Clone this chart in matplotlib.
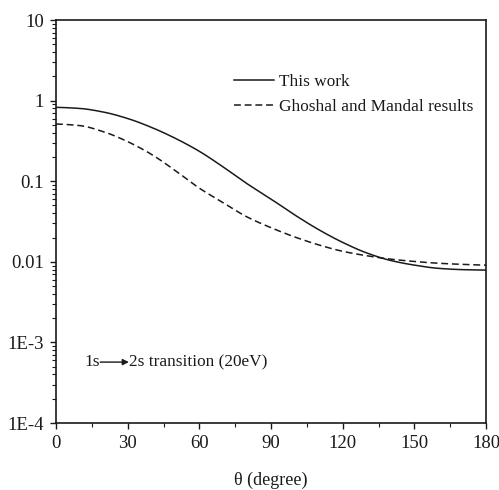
import matplotlib
matplotlib.use("Agg")
import matplotlib.pyplot as plt
from matplotlib.ticker import FixedLocator, LogLocator, FuncFormatter, MultipleLocator
import numpy as np

plt.rcParams['font.family'] = ['Liberation Serif', 'DejaVu Serif']

# angle (degree) and differential cross sections
theta = [0, 10, 20, 30, 40, 50, 60, 70, 80, 90, 100, 110, 120, 130, 140, 150, 160, 170, 180]
this_work = [0.826, 0.80, 0.72, 0.60, 0.465, 0.34, 0.235, 0.15, 0.093, 0.060, 0.038,
             0.025, 0.0174, 0.0129, 0.0104, 0.0091, 0.0083, 0.0080, 0.0079]
ghoshal = [0.513, 0.49, 0.41, 0.31, 0.215, 0.135, 0.082, 0.054, 0.036, 0.0265, 0.0203,
           0.0162, 0.0135, 0.0119, 0.0108, 0.0101, 0.0096, 0.0093, 0.0091]

y_ticks = [1e-4, 1e-3, 1e-2, 1e-1, 1, 10]
y_labels = ['1E-4', '1E-3', '0.01', '0.1', '1', '10']


def pchip(x, y, xs):
    # monotone cubic interpolation, only used to draw smooth curves
    x = np.asarray(x, float)
    y = np.asarray(y, float)
    h = np.diff(x)
    d = np.diff(y) / h
    m = np.zeros_like(y)
    for i in range(1, len(y) - 1):
        if d[i - 1] * d[i] > 0:
            w1 = 2 * h[i] + h[i - 1]
            w2 = h[i] + 2 * h[i - 1]
            m[i] = (w1 + w2) / (w1 / d[i - 1] + w2 / d[i])
    m[0] = d[0] * 0.5 if d[0] != 0 else 0
    m[-1] = d[-1] * 0.5
    idx = np.clip(np.searchsorted(x, xs) - 1, 0, len(x) - 2)
    t = (xs - x[idx]) / h[idx]
    h00 = 2 * t**3 - 3 * t**2 + 1
    h10 = t**3 - 2 * t**2 + t
    h01 = -2 * t**3 + 3 * t**2
    h11 = t**3 - t**2
    return h00 * y[idx] + h10 * h[idx] * m[idx] + h01 * y[idx + 1] + h11 * h[idx] * m[idx + 1]


fig = plt.figure(figsize=(4.99, 4.90), dpi=100)
ax = fig.add_axes([0.1122, 0.1367, 0.862, 0.8224])

tt = np.linspace(0, 180, 721)
sw = 10 ** pchip(theta, np.log10(this_work), tt)
gm = 10 ** pchip(theta, np.log10(ghoshal), tt)

ax.plot(tt, sw, color='#1a1a1a', lw=1.1, label='This work')
ax.plot(tt, gm, color='#1a1a1a', lw=1.1, ls=(0, (4.5, 2.5)), label='Ghoshal and Mandal results')

ax.set_yscale('log')
ax.set_xlim(0, 180)
ax.set_ylim(1e-4, 10)
ax.yaxis.set_major_locator(FixedLocator(y_ticks))
ax.yaxis.set_major_formatter(FuncFormatter(lambda v, p: y_labels[y_ticks.index(v)] if v in y_ticks else ''))
ax.yaxis.set_minor_locator(LogLocator(base=10, subs=np.arange(2, 10), numticks=20))
ax.yaxis.set_minor_formatter(FuncFormatter(lambda v, p: ''))
ax.xaxis.set_major_locator(MultipleLocator(30))
ax.xaxis.set_minor_locator(MultipleLocator(15))

ax.tick_params(which='major', direction='out', length=4.5, width=1, labelsize=13.5, colors='#1a1a1a', pad=4)
ax.tick_params(which='minor', direction='out', length=2.8, width=0.8, colors='#1a1a1a')
for s in ax.spines.values():
    s.set_linewidth(1.2)
    s.set_color('#1a1a1a')

ax.set_xlabel('θ (degree)', fontsize=13, labelpad=14, color='#1a1a1a')

leg = ax.legend(loc='upper left', bbox_to_anchor=(0.414, 0.866), frameon=False, fontsize=12.4,
                handlelength=2.3, handletextpad=0.3, labelspacing=0.5, borderpad=0, borderaxespad=0)
for t in leg.get_texts():
    t.set_color('#1a1a1a')

ya = 5.7e-4
ax.text(12, ya, '1s', fontsize=12.4, va='center', ha='left', color='#1a1a1a')
ax.annotate('', xy=(30.5, ya), xytext=(18.5, ya),
            arrowprops=dict(arrowstyle='-|>', color='#1a1a1a', lw=1.0, mutation_scale=9,
                            shrinkA=0, shrinkB=0))
ax.text(30.7, ya, '2s transition (20eV)', fontsize=12.4, va='center', ha='left', color='#1a1a1a')

fig.savefig('out.png', dpi=100, facecolor='white')
